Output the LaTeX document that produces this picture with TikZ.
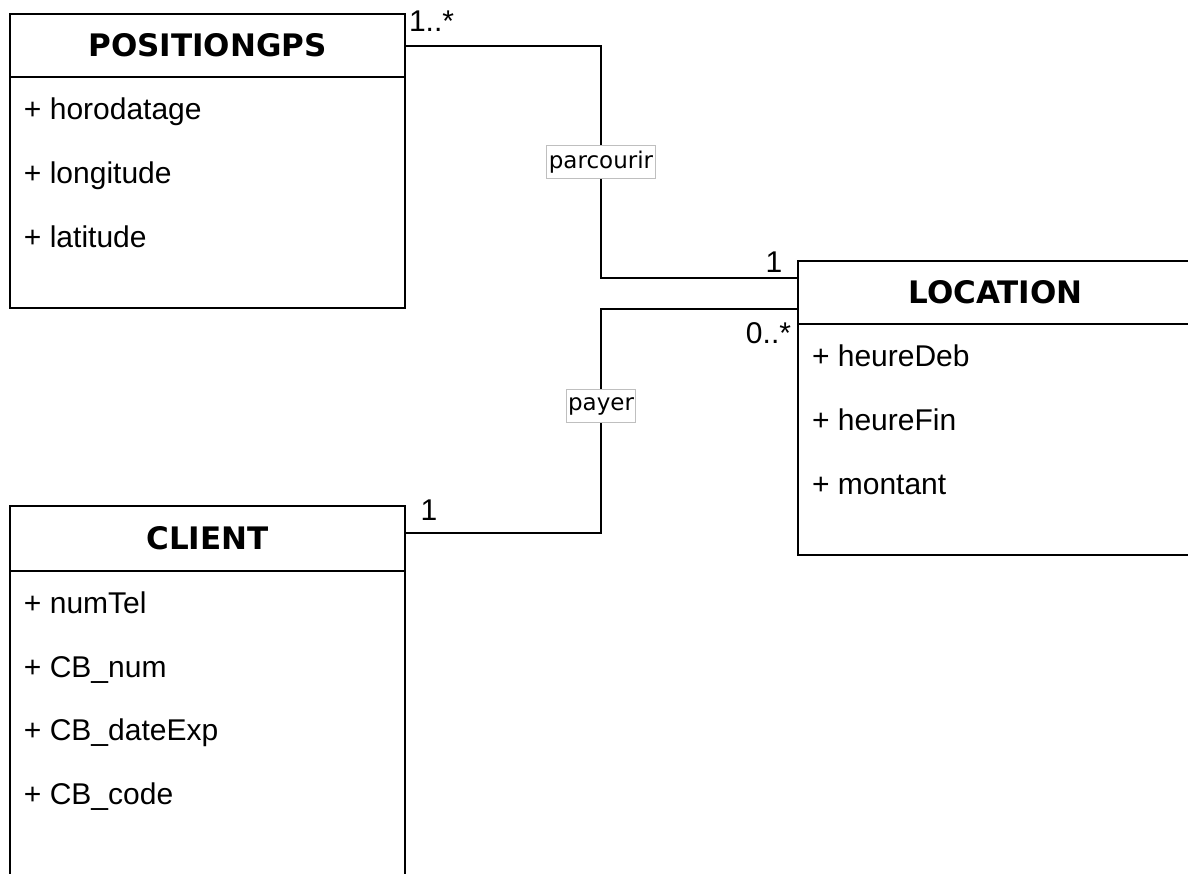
\documentclass[tikz,border=0pt]{standalone}
\usepackage{fontspec}
\setmainfont{Liberation Sans}
\newfontfamily\headfont{DejaVu Sans}
\usetikzlibrary{positioning}
\tikzset{>=latex}

\begin{document}
\begin{tikzpicture}[x=0.5pt, y=-0.5pt]
    % coordinates in px of the screen shot, sizes of nodes in pt (1px = 0.5pt)
    \tikzstyle{every node}=[inner sep=0pt, outer sep=0pt]
    \tikzstyle{classhead}=[draw=black, line width=1pt, minimum width=197.5pt, minimum height=31.5pt, anchor=north west, font=\headfont\bfseries\fontsize{15.5}{18}\selectfont]
    \tikzstyle{classbody}=[draw=black, line width=1pt, minimum width=197.5pt, minimum height=115.5pt, anchor=north west]
    \tikzstyle{attrib}=[anchor=base west, font=\fontsize{15}{18}\selectfont]
    \tikzstyle{multi}=[font=\fontsize{15}{18}\selectfont]
    \tikzstyle{link}=[draw=black, line width=1pt]
    \tikzstyle{linklabel}=[fill=white, draw=black!25, line width=0.5pt, inner xsep=1pt, minimum height=16.5pt, font=\headfont\fontsize{11.5}{14}\selectfont]

    \useasboundingbox (0,0) rectangle (1188,873);
    \clip (0,0) rectangle (1188,873);

    % POSITIONGPS
    \node[classhead] (gpshead) at (10,14) {POSITIONGPS};
    \node[classbody] (gpsbody) at (gpshead.south west) {};
    \node[attrib] (gpsa1) at (24,119) {+ horodatage};
    \node[attrib] (gpsa2) at (24,183) {+ longitude};
    \node[attrib] (gpsa3) at (24,247) {+ latitude};

    % LOCATION
    \node[classhead] (lochead) at (798,261) {LOCATION};
    \node[classbody] (locbody) at (lochead.south west) {};
    \node[attrib] (loca1) at (812,366) {+ heureDeb};
    \node[attrib] (loca2) at (812,430) {+ heureFin};
    \node[attrib] (loca3) at (812,494) {+ montant};

    % CLIENT
    \node[classhead, minimum height=32.5pt] (clihead) at (10,506) {CLIENT};
    \node[classbody, minimum height=160pt] (clibody) at (clihead.south west) {};
    \node[attrib] (clia1) at (24,613) {+ numTel};
    \node[attrib] (clia2) at (24,677) {+ CB\_num};
    \node[attrib] (clia3) at (24,740) {+ CB\_dateExp};
    \node[attrib] (clia4) at (24,804) {+ CB\_code};

    % associations
    \draw[link] (gpshead.east) -- ++(196,0) |- node[linklabel, pos=0.25] (parc) {parcourir} ([yshift=7.25pt]lochead.west);
    \draw[link] ([yshift=2.75pt]clihead.east) -- ++(196,0) |- node[linklabel, pos=0.283] (pay) {payer} ([yshift=-8.25pt]lochead.west);

    % multiplicities
    \node[multi, anchor=base west] (mgps) at (409,31) {1..*};
    \node[multi, anchor=base] (mlocp) at (774,272) {1};
    \node[multi, anchor=base east] (mlocc) at (791,343) {0..*};
    \node[multi, anchor=base] (mcli) at (429,520) {1};
\end{tikzpicture}
\end{document}
